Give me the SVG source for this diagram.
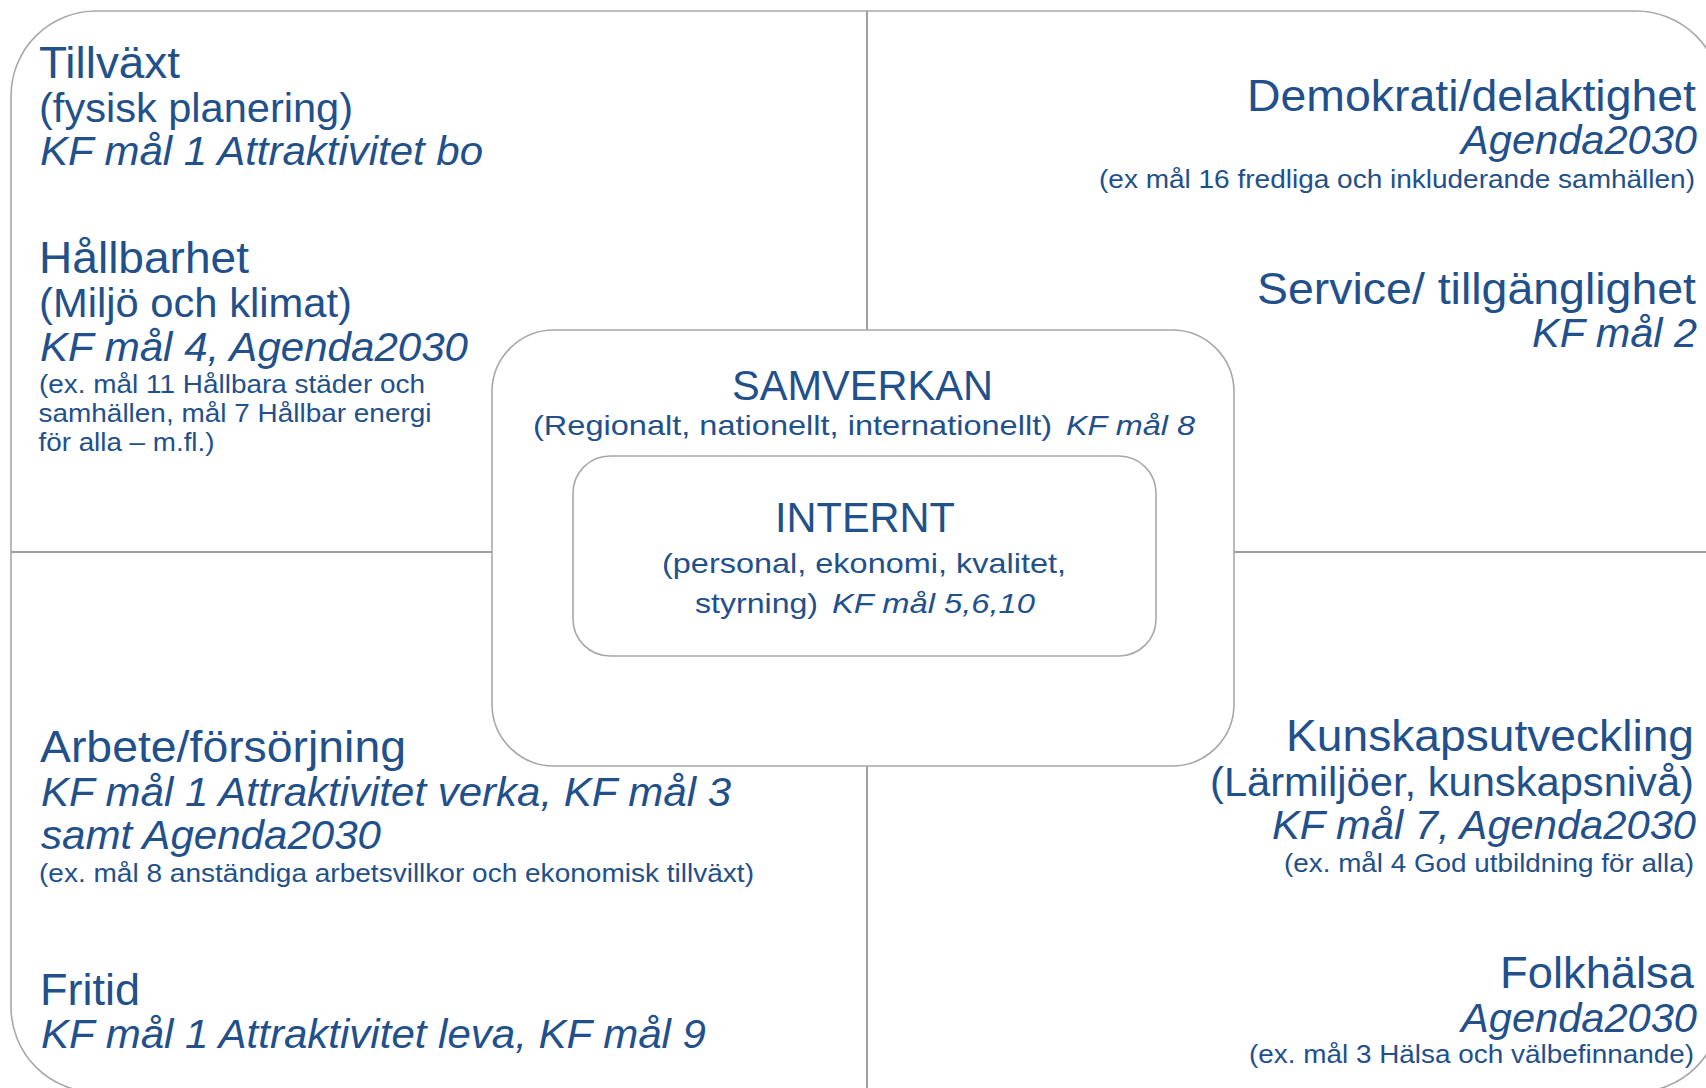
<svg xmlns="http://www.w3.org/2000/svg" width="1706" height="1088" viewBox="0 0 1706 1088">
<style>
text{font-family:"Liberation Sans",Arial,Helvetica,sans-serif;fill:#22508a}
.h{font-size:45px}
.m{font-size:40px}
.s{font-size:25px}
.c{font-size:42px}
.cs{font-size:28px}
.i{font-style:italic}
.frame{fill:#ffffff;stroke:#a8a8a8;stroke-width:1.6}
.div{stroke:#9e9e9e;stroke-width:2;fill:none}
</style>
<rect x="0" y="0" width="1706" height="1088" fill="#ffffff"/>
<rect id="outer" class="frame" x="11" y="11" width="1710" height="1081" rx="85" ry="85"/>
<g id="connectors">
<line class="div" x1="867" y1="11" x2="867" y2="330"/>
<line class="div" x1="867" y1="766" x2="867" y2="1092"/>
<line class="div" x1="11" y1="552" x2="492" y2="552"/>
<line class="div" x1="1234" y1="552" x2="1721" y2="552"/>
</g>
<g id="samverkan">
<rect class="frame" x="492" y="330" width="742" height="436" rx="62" ry="62"/>
<text class="c" x="732" y="400" textLength="261" lengthAdjust="spacingAndGlyphs">SAMVERKAN</text>
<text class="cs" x="533" y="435" textLength="519" lengthAdjust="spacingAndGlyphs">(Regionalt, nationellt, internationellt)</text>
<text class="cs i" x="1066" y="435" textLength="129" lengthAdjust="spacingAndGlyphs">KF mål 8</text>
</g>
<g id="internt">
<rect class="frame" x="573" y="456" width="583" height="200" rx="37" ry="37"/>
<text class="c" x="775" y="532" textLength="180" lengthAdjust="spacingAndGlyphs">INTERNT</text>
<text class="cs" x="662" y="573" textLength="404" lengthAdjust="spacingAndGlyphs">(personal, ekonomi, kvalitet,</text>
<text class="cs" x="695" y="613" textLength="123" lengthAdjust="spacingAndGlyphs">styrning)</text>
<text class="cs i" x="832" y="613" textLength="203" lengthAdjust="spacingAndGlyphs">KF mål 5,6,10</text>
</g>
<g id="tillvaxt">
<text class="h" x="39" y="78" textLength="141" lengthAdjust="spacingAndGlyphs">Tillväxt</text>
<text class="m" x="39" y="122" textLength="314" lengthAdjust="spacingAndGlyphs">(fysisk planering)</text>
<text class="m i" x="40" y="165" textLength="443" lengthAdjust="spacingAndGlyphs">KF mål 1 Attraktivitet bo</text>
</g>
<g id="hallbarhet">
<text class="h" x="39" y="273" textLength="210" lengthAdjust="spacingAndGlyphs">Hållbarhet</text>
<text class="m" x="39" y="317" textLength="313" lengthAdjust="spacingAndGlyphs">(Miljö och klimat)</text>
<text class="m i" x="40" y="361" textLength="428" lengthAdjust="spacingAndGlyphs">KF mål 4, Agenda2030</text>
<text class="s" x="39" y="393" textLength="386" lengthAdjust="spacingAndGlyphs">(ex. mål 11 Hållbara städer och</text>
<text class="s" x="38.5" y="422" textLength="393" lengthAdjust="spacingAndGlyphs">samhällen, mål 7 Hållbar energi</text>
<text class="s" x="38.5" y="451" textLength="176" lengthAdjust="spacingAndGlyphs">för alla – m.fl.)</text>
</g>
<g id="demokrati">
<text class="h" x="1247" y="111" textLength="449" lengthAdjust="spacingAndGlyphs">Demokrati/delaktighet</text>
<text class="m i" x="1461" y="154" textLength="236" lengthAdjust="spacingAndGlyphs">Agenda2030</text>
<text class="s" x="1099" y="188" textLength="596" lengthAdjust="spacingAndGlyphs">(ex mål 16 fredliga och inkluderande samhällen)</text>
</g>
<g id="service">
<text class="h" x="1257" y="304" textLength="439" lengthAdjust="spacingAndGlyphs">Service/ tillgänglighet</text>
<text class="m i" x="1532" y="347" textLength="165" lengthAdjust="spacingAndGlyphs">KF mål 2</text>
</g>
<g id="arbete">
<text class="h" x="40" y="762" textLength="366" lengthAdjust="spacingAndGlyphs">Arbete/försörjning</text>
<text class="m i" x="41" y="806" textLength="690" lengthAdjust="spacingAndGlyphs">KF mål 1 Attraktivitet verka, KF mål 3</text>
<text class="m i" x="41" y="849" textLength="340" lengthAdjust="spacingAndGlyphs">samt Agenda2030</text>
<text class="s" x="39" y="882" textLength="715" lengthAdjust="spacingAndGlyphs">(ex. mål 8 anständiga arbetsvillkor och ekonomisk tillväxt)</text>
</g>
<g id="fritid">
<text class="h" x="40" y="1005" textLength="100" lengthAdjust="spacingAndGlyphs">Fritid</text>
<text class="m i" x="41" y="1048" textLength="665" lengthAdjust="spacingAndGlyphs">KF mål 1 Attraktivitet leva, KF mål 9</text>
</g>
<g id="kunskap">
<text class="h" x="1286" y="751" textLength="408" lengthAdjust="spacingAndGlyphs">Kunskapsutveckling</text>
<text class="m" x="1210" y="796" textLength="484" lengthAdjust="spacingAndGlyphs">(Lärmiljöer, kunskapsnivå)</text>
<text class="m i" x="1272" y="839" textLength="424" lengthAdjust="spacingAndGlyphs">KF mål 7, Agenda2030</text>
<text class="s" x="1284" y="872" textLength="410" lengthAdjust="spacingAndGlyphs">(ex. mål 4 God utbildning för alla)</text>
</g>
<g id="folkhalsa">
<text class="h" x="1500" y="988" textLength="194" lengthAdjust="spacingAndGlyphs">Folkhälsa</text>
<text class="m i" x="1461" y="1032" textLength="236" lengthAdjust="spacingAndGlyphs">Agenda2030</text>
<text class="s" x="1249" y="1063" textLength="445" lengthAdjust="spacingAndGlyphs">(ex. mål 3 Hälsa och välbefinnande)</text>
</g>
</svg>
